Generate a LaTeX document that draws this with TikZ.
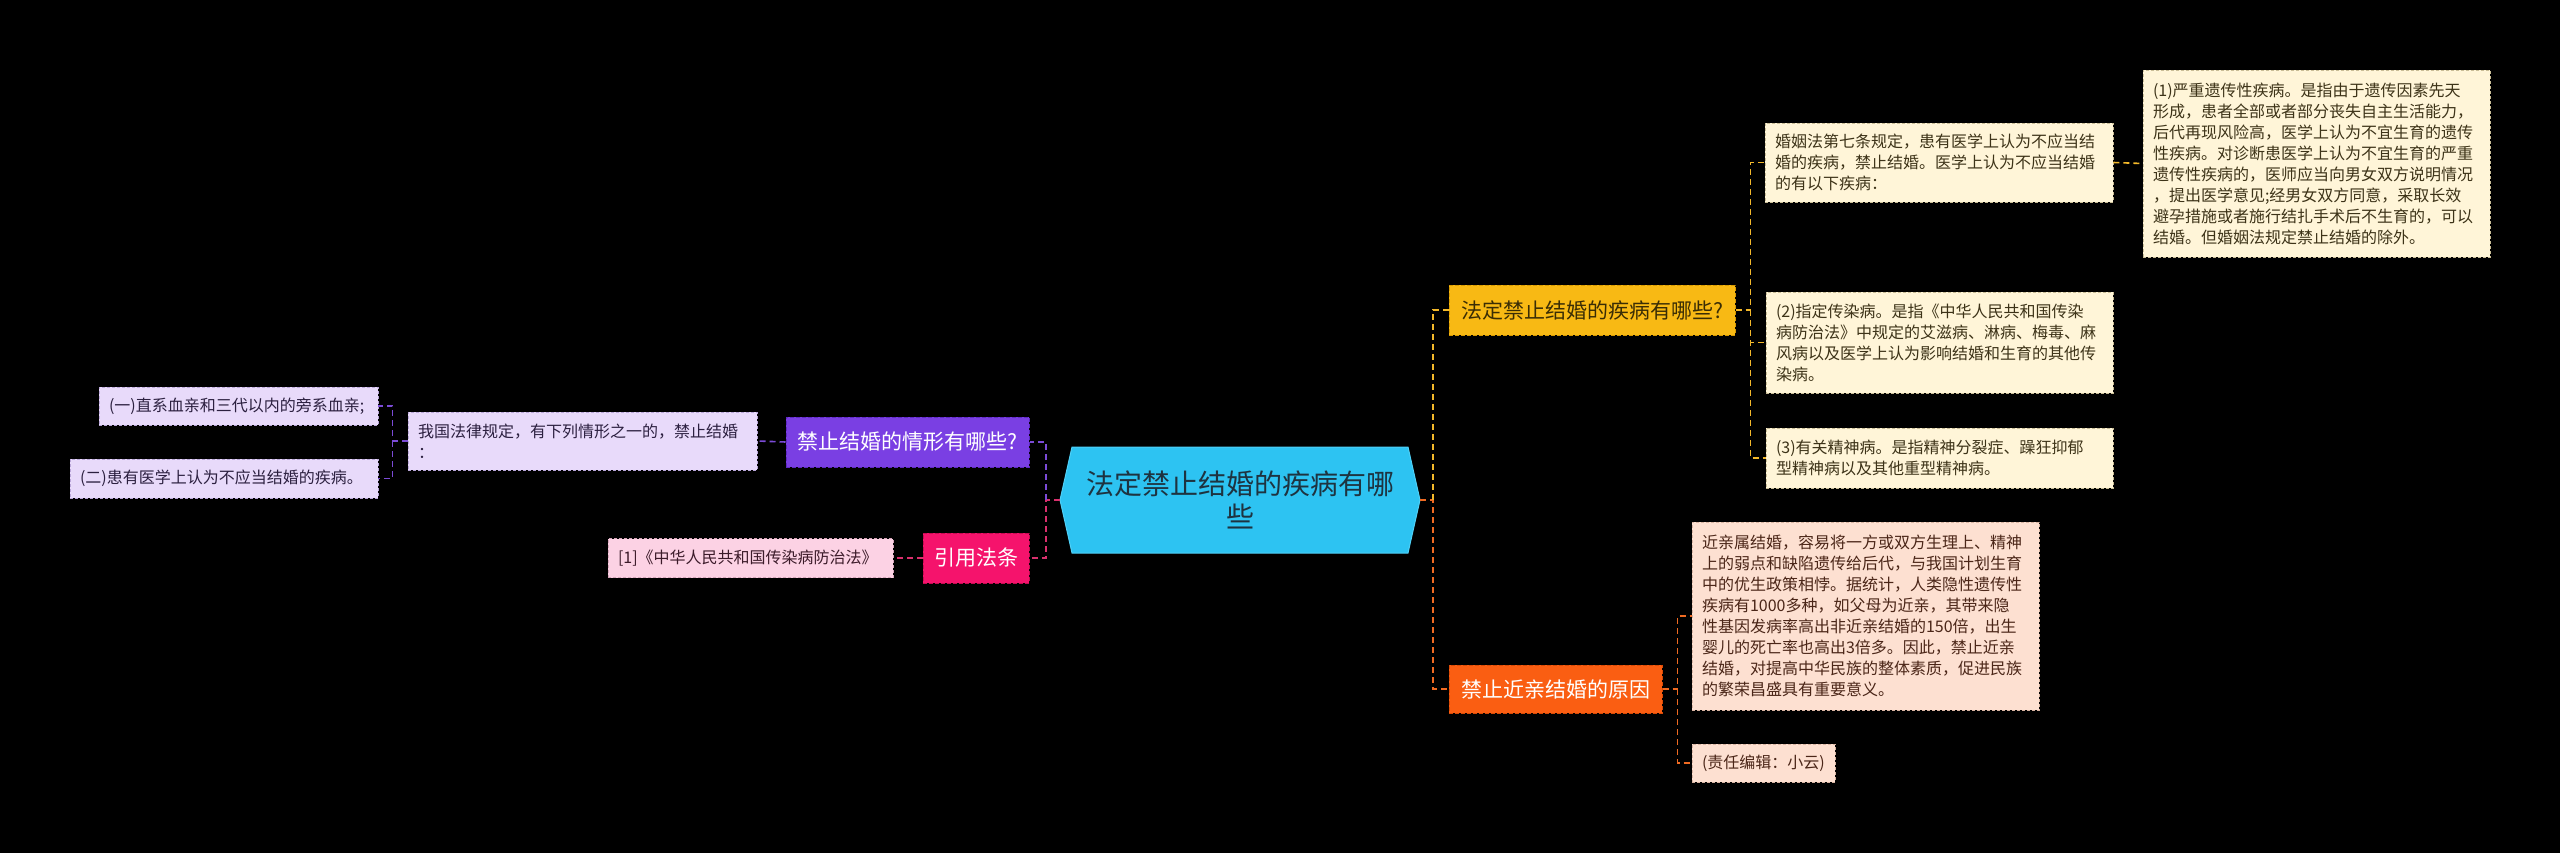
\documentclass[tikz,border=0pt]{standalone}
\usepackage{fontspec}
\setmainfont{Noto Sans CJK SC}
\definecolor{cfill}{HTML}{2DC3F2}
\definecolor{cborder}{HTML}{4FD0F7}
\definecolor{ctext}{HTML}{1E3340}
\definecolor{yfill}{HTML}{F8B914}
\definecolor{yborder}{HTML}{D89A00}
\definecolor{ytext}{HTML}{3A2D05}
\definecolor{yline}{HTML}{F3B82A}
\definecolor{cream}{HTML}{FFF5D8}
\definecolor{creamborder}{HTML}{C9BD96}
\definecolor{creamtext}{HTML}{3D3318}
\definecolor{ofill}{HTML}{FA5E12}
\definecolor{oborder}{HTML}{D94A05}
\definecolor{oline}{HTML}{EF6A22}
\definecolor{peach}{HTML}{FDE0D1}
\definecolor{peachborder}{HTML}{D8B4A2}
\definecolor{peachtext}{HTML}{4B2618}
\definecolor{pfill}{HTML}{7A3FE3}
\definecolor{pborder}{HTML}{5E28C2}
\definecolor{pline}{HTML}{7B4BD6}
\definecolor{lav}{HTML}{E8DAFA}
\definecolor{lavborder}{HTML}{B9A6D8}
\definecolor{lavtext}{HTML}{2C2040}
\definecolor{kfill}{HTML}{F5136C}
\definecolor{kborder}{HTML}{C80A52}
\definecolor{kline}{HTML}{D9306D}
\definecolor{pinkleaf}{HTML}{FCD2E4}
\definecolor{pinkborder}{HTML}{D6A5BA}
\definecolor{pinktext}{HTML}{3C1B2A}
\begin{document}
\begin{tikzpicture}[x=1pt,y=-1pt,
  conn/.style={line width=1.6pt, dash pattern=on 6pt off 4pt},
  leaf/.style n args={2}{font=\fontsize{16}{21}\selectfont, align=left,
    inner xsep=10pt, inner ysep=1pt, text width=#1, minimum height=#2,
    line width=0.8pt, dash pattern=on 3pt off 2pt},
  topic/.style n args={2}{font=\fontsize{21}{25}\selectfont, align=center,
    inner sep=2pt, minimum width=#1, minimum height=#2,
    line width=1pt, dash pattern=on 4pt off 2pt},
  rootnode/.style={font=\fontsize{28}{33}\selectfont, align=center, text=ctext,
    inner sep=0pt, minimum width=360pt, minimum height=106pt, text width=330pt}
]
\fill[black] (0,0) rectangle (2560,853);
\useasboundingbox (0,0) rectangle (2560,853);

% central shape
\path[fill=cfill, draw=cborder, line width=1pt] (1060,500) -- (1072,447) -- (1408,447) -- (1420,500) -- (1408,553) -- (1072,553) -- cycle;
\node[rootnode] (root) at (1240,500) {法定禁止结婚的疾病有哪\\些};

% topics
\node[topic={286pt}{50pt}, fill=yfill, draw=yborder, text=ytext] (o1) at (1592,310) {法定禁止结婚的疾病有哪些?};
\node[topic={213pt}{48pt}, fill=ofill, draw=oborder, text=white] (o2) at (1555.5,689) {禁止近亲结婚的原因};
\node[topic={243pt}{50pt}, fill=pfill, draw=pborder, text=white] (p) at (907.5,442) {禁止结婚的情形有哪些?};
\node[topic={106pt}{50pt}, fill=kfill, draw=kborder, text=white] (k) at (976,558) {引用法条};

% leaves right
\node[leaf={328pt}{79pt}, fill=cream, draw=creamborder, text=creamtext] (la) at (1939,162.5)
 {婚姻法第七条规定，患有医学上认为不应当结\\婚的疾病，禁止结婚。医学上认为不应当结婚\\的有以下疾病：};
\node[leaf={327pt}{187pt}, fill=cream, draw=creamborder, text=creamtext] (la1) at (2316.5,163.5)
 {(1)严重遗传性疾病。是指由于遗传因素先天\\形成，患者全部或者部分丧失自主生活能力，\\后代再现风险高，医学上认为不宜生育的遗传\\性疾病。对诊断患医学上认为不宜生育的严重\\遗传性疾病的，医师应当向男女双方说明情况\\，提出医学意见;经男女双方同意，采取长效\\避孕措施或者施行结扎手术后不生育的，可以\\结婚。但婚姻法规定禁止结婚的除外。};
\node[leaf={327pt}{101pt}, fill=cream, draw=creamborder, text=creamtext] (lb) at (1939.5,342.5)
 {(2)指定传染病。是指《中华人民共和国传染\\病防治法》中规定的艾滋病、淋病、梅毒、麻\\风病以及医学上认为影响结婚和生育的其他传\\染病。};
\node[leaf={327pt}{60pt}, fill=cream, draw=creamborder, text=creamtext] (lc) at (1939.5,458)
 {(3)有关精神病。是指精神分裂症、躁狂抑郁\\型精神病以及其他重型精神病。};
\node[leaf={327pt}{188pt}, fill=peach, draw=peachborder, text=peachtext] (ld) at (1865.5,616)
 {近亲属结婚，容易将一方或双方生理上、精神\\上的弱点和缺陷遗传给后代，与我国计划生育\\中的优生政策相悖。据统计，人类隐性遗传性\\疾病有1000多种，如父母为近亲，其带来隐\\性基因发病率高出非近亲结婚的150倍，出生\\婴儿的死亡率也高出3倍多。因此，禁止近亲\\结婚，对提高中华民族的整体素质，促进民族\\的繁荣昌盛具有重要意义。};
\node[leaf={123pt}{38pt}, fill=peach, draw=peachborder, text=peachtext] (le) at (1763.5,763)
 {(责任编辑：小云)};

% leaves left
\node[leaf={329pt}{58pt}, fill=lav, draw=lavborder, text=lavtext] (p1) at (582.5,441)
 {我国法律规定，有下列情形之一的，禁止结婚\\：};
\node[leaf={259pt}{38pt}, fill=lav, draw=lavborder, text=lavtext] (p11) at (238.5,406)
 {(一)直系血亲和三代以内的旁系血亲;};
\node[leaf={288pt}{39pt}, fill=lav, draw=lavborder, text=lavtext] (p12) at (224,478.5)
 {(二)患有医学上认为不应当结婚的疾病。};
\node[leaf={265pt}{39pt}, fill=pinkleaf, draw=pinkborder, text=pinktext] (k1) at (750.5,558)
 {[1]《中华人民共和国传染病防治法》};

% connectors
\draw[conn, draw=oline] (root.east) -- ++(13,0) |- (o2.west);
\draw[conn, draw=yline] (root.east) ++(13,0) |- (o1.west);
\draw[conn, draw=yline] (o1.east) -- ++(15,0) |- (la.west);
\draw[conn, draw=yline] (o1.east) ++(15,0) |- (lb.west);
\draw[conn, draw=yline] (o1.east) ++(15,0) |- (lc.west);
\draw[conn, draw=yline] (la.east) -- (la1.west);
\draw[conn, draw=oline] (o2.east) -- ++(15,0) |- (ld.west);
\draw[conn, draw=oline] (o2.east) ++(15,0) |- (le.west);
\draw[conn, draw=kline] (root.west) -- ++(-14,0) |- (k.east);
\draw[conn, draw=pline] (root.west) ++(-14,0) |- (p.east);
\draw[conn, draw=pline] (p.west) -- (p1.east);
\draw[conn, draw=pline] (p1.west) -- ++(-15,0) |- (p11.east);
\draw[conn, draw=pline] (p1.west) ++(-15,0) |- (p12.east);
\draw[conn, draw=kline] (k.west) -- (k1.east);
\end{tikzpicture}
\end{document}
